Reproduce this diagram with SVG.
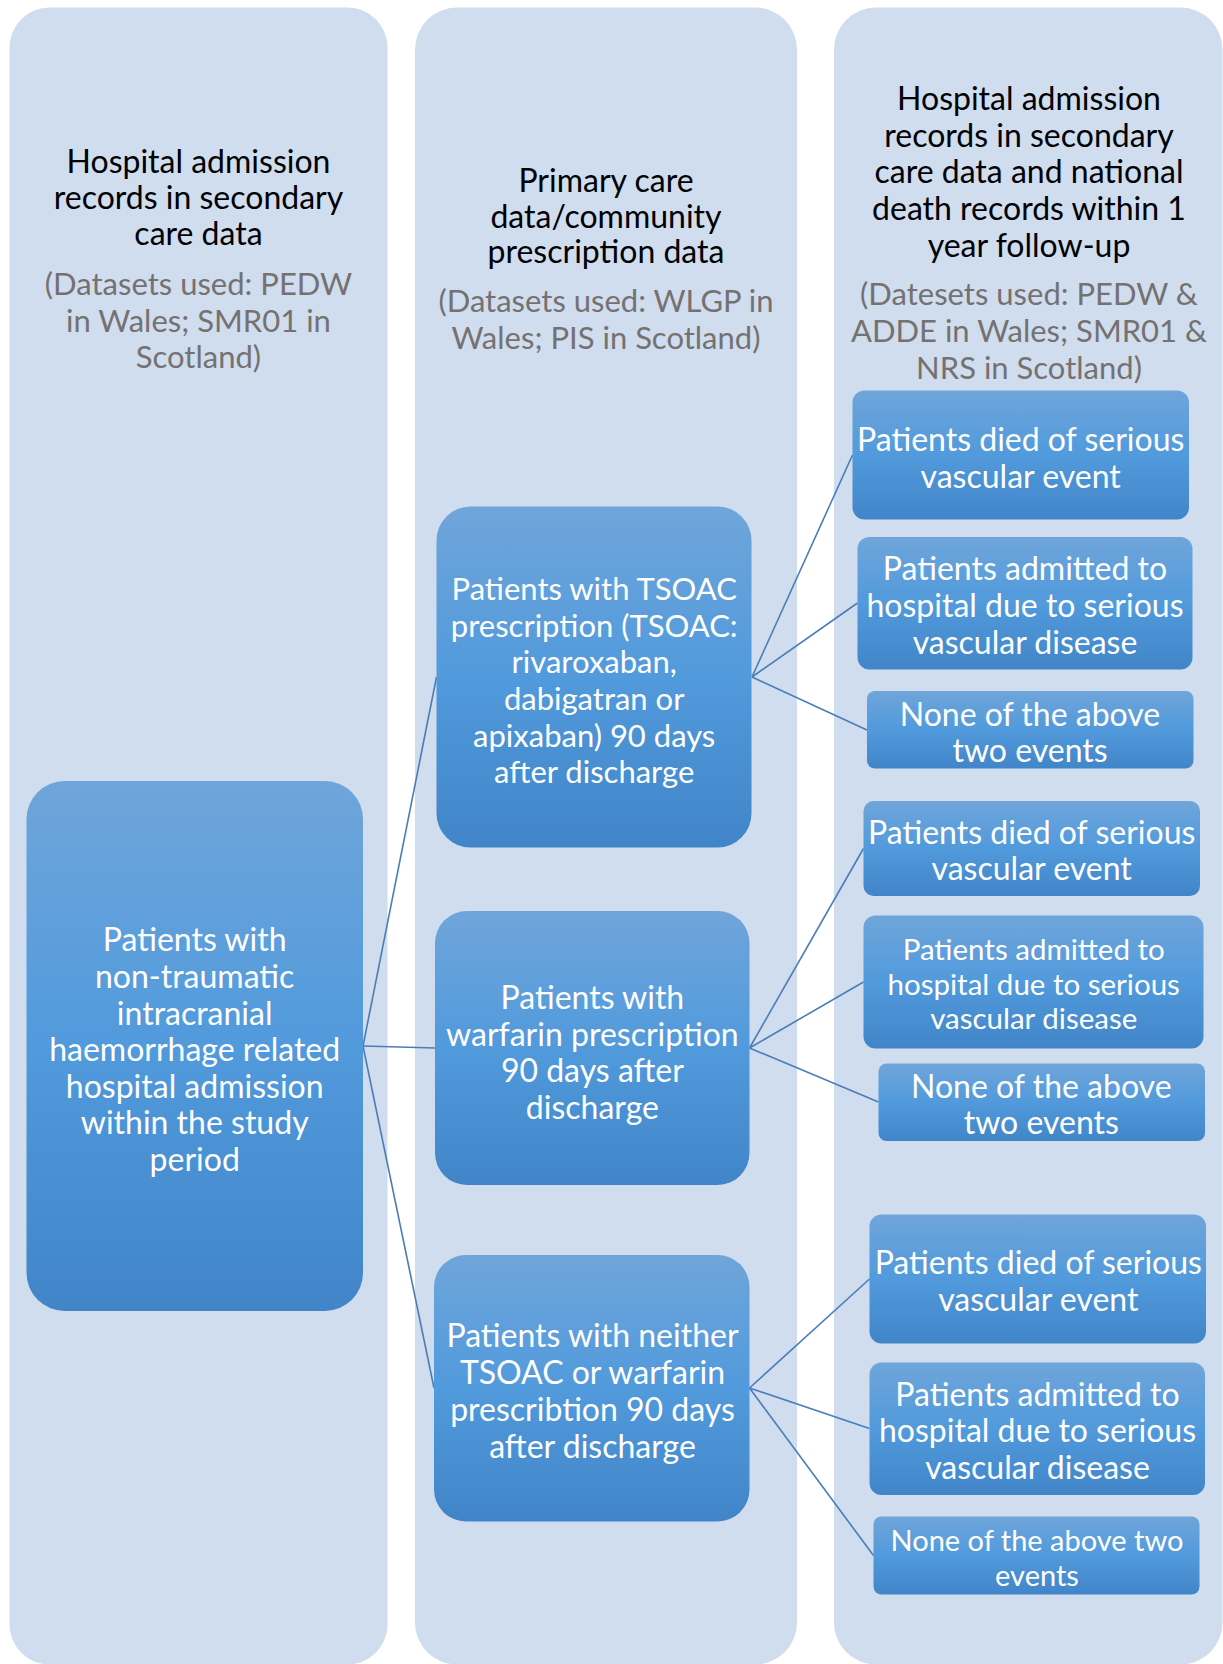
<svg xmlns="http://www.w3.org/2000/svg" width="1223" height="1664" viewBox="0 0 1223 1664">
<style>
.col{fill:#CFDDEE}
.node{fill:url(#g)}
.hd{font-family:Lato,"Open Sans",sans-serif;font-size:32px;fill:#000;text-anchor:middle}
.gr{font-family:Lato,"Open Sans",sans-serif;font-size:31px;fill:#767171;text-anchor:middle}
.nt{font-family:Lato,"Open Sans",sans-serif;font-size:32px;fill:#fff;text-anchor:middle}
.s31{font-size:31px}
.sm{font-size:29.5px}
.xs{font-size:29px}
.cn line{stroke:#4A7DB8;stroke-width:1.6}
</style>
<defs>
<linearGradient id="g" x1="0" y1="0" x2="0" y2="1">
<stop offset="0" stop-color="#6FA5DA"/>
<stop offset="0.5" stop-color="#519ADC"/>
<stop offset="1" stop-color="#4185C8"/>
</linearGradient>
</defs>
<rect width="1223" height="1664" fill="#fff"/>
<g id="columns">
<rect id="col1" class="col" x="9.5" y="7.5" width="378" height="1657" rx="40"/>
<rect id="col2" class="col" x="415" y="7.5" width="382" height="1657" rx="42"/>
<rect id="col3" class="col" x="834" y="7.5" width="388.5" height="1657" rx="42"/>
</g>
<g id="headers">
<text class="hd" x="198.5"><tspan x="198.5" y="172.7">Hospital admission</tspan><tspan x="198.5" y="209">records in secondary</tspan><tspan x="198.5" y="245.3">care data</tspan></text>
<text class="gr" x="198.5"><tspan x="198.5" y="295">(Datasets used: PEDW</tspan><tspan x="198.5" y="331.7">in Wales; SMR01 in</tspan><tspan x="198.5" y="368">Scotland)</tspan></text>
<text class="hd" x="606"><tspan x="606" y="191.7">Primary care</tspan><tspan x="606" y="227.7">data/community</tspan><tspan x="606" y="263.3">prescription data</tspan></text>
<text class="gr" x="606"><tspan x="606" y="311.7">(Datasets used: WLGP in</tspan><tspan x="606" y="349">Wales; PIS in Scotland)</tspan></text>
<text class="hd" x="1029"><tspan x="1029" y="110">Hospital admission</tspan><tspan x="1029" y="146.7">records in secondary</tspan><tspan x="1029" y="183.3">care data and national</tspan><tspan x="1029" y="220">death records within 1</tspan><tspan x="1029" y="256.7">year follow-up</tspan></text>
<text class="gr" x="1029"><tspan x="1029" y="305">(Datesets used: PEDW &amp;</tspan><tspan x="1029" y="342.3">ADDE in Wales; SMR01 &amp;</tspan><tspan x="1029" y="379">NRS in Scotland)</tspan></text>
</g>
<g id="connectors" class="cn">
<line x1="363" y1="1046" x2="436.5" y2="677"/>
<line x1="363" y1="1046" x2="435" y2="1048"/>
<line x1="363" y1="1046" x2="434" y2="1388"/>
<line x1="752" y1="677" x2="852.5" y2="455"/>
<line x1="752" y1="677" x2="857.5" y2="603"/>
<line x1="752" y1="677" x2="867" y2="730"/>
<line x1="749.5" y1="1048" x2="863.5" y2="848.5"/>
<line x1="749.5" y1="1048" x2="863.5" y2="982"/>
<line x1="749.5" y1="1048" x2="878.5" y2="1102"/>
<line x1="749.5" y1="1388" x2="869.5" y2="1279"/>
<line x1="749.5" y1="1388" x2="869.5" y2="1428.5"/>
<line x1="749.5" y1="1388" x2="873.5" y2="1555.5"/>
</g>
<g id="n-main">
<rect class="node" x="26.5" y="781" width="336.5" height="530" rx="38"/>
<text class="nt"><tspan x="194.7" y="951.3">Patients with</tspan><tspan x="194.7" y="988">non-traumatic</tspan><tspan x="194.7" y="1024.5">intracranial</tspan><tspan x="194.7" y="1061">haemorrhage related</tspan><tspan x="194.7" y="1097.5">hospital admission</tspan><tspan x="194.7" y="1134.3">within the study</tspan><tspan x="194.7" y="1170.7">period</tspan></text>
</g>
<g id="n-tsoac">
<rect class="node" x="436.5" y="506.5" width="315" height="341" rx="34"/>
<text class="nt s31"><tspan x="594.2" y="600">Patients with TSOAC</tspan><tspan x="594.2" y="636.7">prescription (TSOAC:</tspan><tspan x="594.2" y="673.3">rivaroxaban,</tspan><tspan x="594.2" y="710">dabigatran or</tspan><tspan x="594.2" y="746.7">apixaban) 90 days</tspan><tspan x="594.2" y="783.3">after discharge</tspan></text>
</g>
<g id="n-warfarin">
<rect class="node" x="435" y="911" width="314.5" height="274" rx="32"/>
<text class="nt"><tspan x="592.4" y="1009">Patients with</tspan><tspan x="592.4" y="1045.7">warfarin prescription</tspan><tspan x="592.4" y="1082.4">90 days after</tspan><tspan x="592.4" y="1119.1">discharge</tspan></text>
</g>
<g id="n-neither">
<rect class="node" x="434" y="1255" width="315.5" height="266.5" rx="32"/>
<text class="nt"><tspan x="592.5" y="1346.7">Patients with neither</tspan><tspan x="592.5" y="1383.7">TSOAC or warfarin</tspan><tspan x="592.5" y="1420.7">prescribtion 90 days</tspan><tspan x="592.5" y="1457.7">after discharge</tspan></text>
</g>
<g id="n-a1">
<rect class="node" x="852.5" y="390.5" width="336.5" height="129" rx="12"/>
<text class="nt"><tspan x="1020.7" y="451">Patients died of serious</tspan><tspan x="1020.7" y="488">vascular event</tspan></text>
</g>
<g id="n-a2">
<rect class="node" x="857.5" y="537" width="335" height="132.5" rx="12"/>
<text class="nt"><tspan x="1025" y="580">Patients admitted to</tspan><tspan x="1025" y="617.3">hospital due to serious</tspan><tspan x="1025" y="654">vascular disease</tspan></text>
</g>
<g id="n-a3">
<rect class="node" x="867" y="691" width="326.5" height="77.5" rx="8"/>
<text class="nt"><tspan x="1030" y="725.7">None of the above</tspan><tspan x="1030" y="761.7">two events</tspan></text>
</g>
<g id="n-b1">
<rect class="node" x="863.5" y="801" width="336.5" height="95" rx="10"/>
<text class="nt"><tspan x="1031.7" y="844.3">Patients died of serious</tspan><tspan x="1031.7" y="880">vascular event</tspan></text>
</g>
<g id="n-b2">
<rect class="node" x="863.5" y="915.5" width="340" height="133" rx="12"/>
<text class="nt sm"><tspan x="1033.7" y="960">Patients admitted to</tspan><tspan x="1033.7" y="995">hospital due to serious</tspan><tspan x="1033.7" y="1029.3">vascular disease</tspan></text>
</g>
<g id="n-b3">
<rect class="node" x="878.5" y="1063.5" width="326.5" height="77.5" rx="8"/>
<text class="nt"><tspan x="1041.3" y="1098.3">None of the above</tspan><tspan x="1041.3" y="1134">two events</tspan></text>
</g>
<g id="n-c1">
<rect class="node" x="869.5" y="1214.5" width="336.5" height="129" rx="12"/>
<text class="nt"><tspan x="1038.3" y="1274.3">Patients died of serious</tspan><tspan x="1038.3" y="1311">vascular event</tspan></text>
</g>
<g id="n-c2">
<rect class="node" x="869.5" y="1362.5" width="335.5" height="132.5" rx="12"/>
<text class="nt"><tspan x="1037.5" y="1405.7">Patients admitted to</tspan><tspan x="1037.5" y="1442.3">hospital due to serious</tspan><tspan x="1037.5" y="1479">vascular disease</tspan></text>
</g>
<g id="n-c3">
<rect class="node" x="873.5" y="1516.5" width="326" height="78" rx="8"/>
<text class="nt xs"><tspan x="1037" y="1551">None of the above two</tspan><tspan x="1037" y="1586">events</tspan></text>
</g>
</svg>
